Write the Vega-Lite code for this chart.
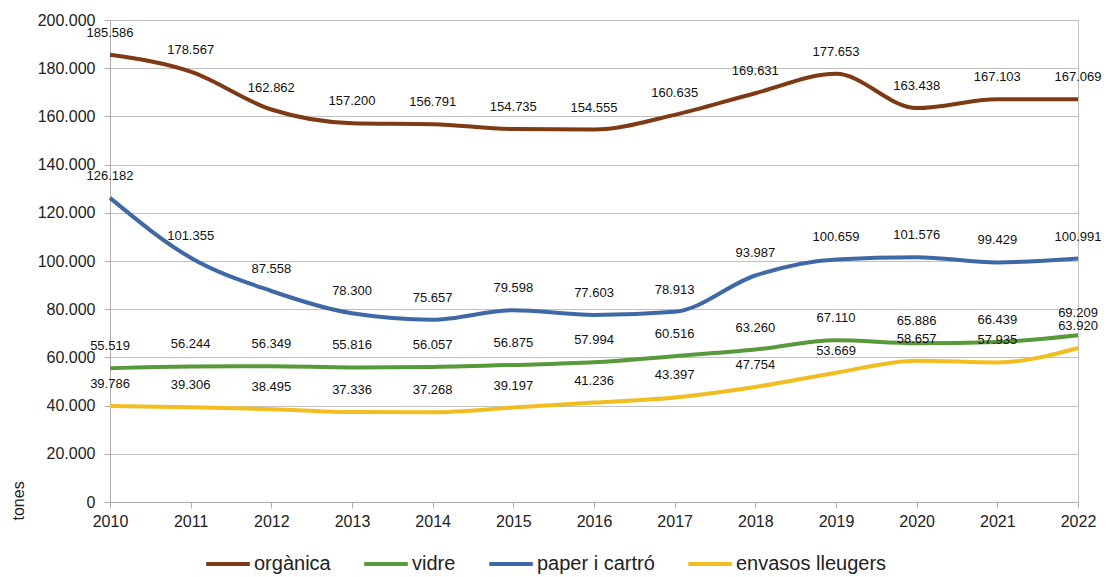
{
  "$schema": "https://vega.github.io/schema/vega-lite/v6.json",
  "width": 968,
  "height": 482,
  "autosize": {"type": "none"},
  "padding": {"left": 110, "top": 20, "right": 32, "bottom": 75},
  "background": "white",
  "config": {
    "locale": {"number": {"decimal": ",", "thousands": ".", "grouping": [3], "currency": ["", " €"]}},
    "font": "Liberation Sans",
    "view": {"stroke": "#c0c0c0", "strokeWidth": 1}
  },
  "data": {
    "values": [
      {"year": 2010, "tipus": "orgànica", "tones": 185586},
      {"year": 2011, "tipus": "orgànica", "tones": 178567},
      {"year": 2012, "tipus": "orgànica", "tones": 162862},
      {"year": 2013, "tipus": "orgànica", "tones": 157200},
      {"year": 2014, "tipus": "orgànica", "tones": 156791},
      {"year": 2015, "tipus": "orgànica", "tones": 154735},
      {"year": 2016, "tipus": "orgànica", "tones": 154555},
      {"year": 2017, "tipus": "orgànica", "tones": 160635},
      {"year": 2018, "tipus": "orgànica", "tones": 169631},
      {"year": 2019, "tipus": "orgànica", "tones": 177653},
      {"year": 2020, "tipus": "orgànica", "tones": 163438},
      {"year": 2021, "tipus": "orgànica", "tones": 167103},
      {"year": 2022, "tipus": "orgànica", "tones": 167069},
      {"year": 2010, "tipus": "vidre", "tones": 55519},
      {"year": 2011, "tipus": "vidre", "tones": 56244},
      {"year": 2012, "tipus": "vidre", "tones": 56349},
      {"year": 2013, "tipus": "vidre", "tones": 55816},
      {"year": 2014, "tipus": "vidre", "tones": 56057},
      {"year": 2015, "tipus": "vidre", "tones": 56875},
      {"year": 2016, "tipus": "vidre", "tones": 57994},
      {"year": 2017, "tipus": "vidre", "tones": 60516},
      {"year": 2018, "tipus": "vidre", "tones": 63260},
      {"year": 2019, "tipus": "vidre", "tones": 67110},
      {"year": 2020, "tipus": "vidre", "tones": 65886},
      {"year": 2021, "tipus": "vidre", "tones": 66439},
      {"year": 2022, "tipus": "vidre", "tones": 69209},
      {"year": 2010, "tipus": "paper i cartró", "tones": 126182},
      {"year": 2011, "tipus": "paper i cartró", "tones": 101355},
      {"year": 2012, "tipus": "paper i cartró", "tones": 87558},
      {"year": 2013, "tipus": "paper i cartró", "tones": 78300},
      {"year": 2014, "tipus": "paper i cartró", "tones": 75657},
      {"year": 2015, "tipus": "paper i cartró", "tones": 79598},
      {"year": 2016, "tipus": "paper i cartró", "tones": 77603},
      {"year": 2017, "tipus": "paper i cartró", "tones": 78913},
      {"year": 2018, "tipus": "paper i cartró", "tones": 93987},
      {"year": 2019, "tipus": "paper i cartró", "tones": 100659},
      {"year": 2020, "tipus": "paper i cartró", "tones": 101576},
      {"year": 2021, "tipus": "paper i cartró", "tones": 99429},
      {"year": 2022, "tipus": "paper i cartró", "tones": 100991},
      {"year": 2010, "tipus": "envasos lleugers", "tones": 39786},
      {"year": 2011, "tipus": "envasos lleugers", "tones": 39306},
      {"year": 2012, "tipus": "envasos lleugers", "tones": 38495},
      {"year": 2013, "tipus": "envasos lleugers", "tones": 37336},
      {"year": 2014, "tipus": "envasos lleugers", "tones": 37268},
      {"year": 2015, "tipus": "envasos lleugers", "tones": 39197},
      {"year": 2016, "tipus": "envasos lleugers", "tones": 41236},
      {"year": 2017, "tipus": "envasos lleugers", "tones": 43397},
      {"year": 2018, "tipus": "envasos lleugers", "tones": 47754},
      {"year": 2019, "tipus": "envasos lleugers", "tones": 53669},
      {"year": 2020, "tipus": "envasos lleugers", "tones": 58657},
      {"year": 2021, "tipus": "envasos lleugers", "tones": 57935},
      {"year": 2022, "tipus": "envasos lleugers", "tones": 63920}
    ]
  },
  "encoding": {
    "x": {
      "field": "year",
      "type": "ordinal",
      "scale": {"type": "point", "padding": 0},
      "axis": {
        "title": null,
        "labelAngle": 0,
        "labelFontSize": 16,
        "labelColor": "#222",
        "labelPadding": 5,
        "tickColor": "#b0b0b0",
        "tickSize": 6,
        "domainColor": "#b0b0b0",
        "grid": false
      }
    },
    "y": {
      "field": "tones",
      "type": "quantitative",
      "scale": {"domain": [0, 200000], "nice": false},
      "axis": {
        "title": "tones",
        "titleFontSize": 16,
        "titleFontWeight": "normal",
        "titleColor": "#222",
        "titleAngle": 270,
        "titleAlign": "left",
        "titleBaseline": "middle",
        "titleX": -92,
        "titleY": 500,
        "format": ",d",
        "values": [0, 20000, 40000, 60000, 80000, 100000, 120000, 140000, 160000, 180000, 200000],
        "labelFontSize": 16,
        "labelColor": "#222",
        "labelPadding": 9,
        "tickSize": 6,
        "tickColor": "#b0b0b0",
        "domainColor": "#b0b0b0",
        "gridColor": "#c0c0c0"
      }
    }
  },
  "layer": [
    {
      "mark": {"type": "line", "strokeWidth": 4, "interpolate": "monotone"},
      "encoding": {
        "color": {
          "field": "tipus",
          "type": "nominal",
          "scale": {
            "domain": ["orgànica", "vidre", "paper i cartró", "envasos lleugers"],
            "range": ["#7e3a12", "#58993a", "#3f69a6", "#f2bd1e"]
          },
          "legend": {
            "title": null,
            "orient": "none",
            "direction": "horizontal",
            "legendX": 94,
            "legendY": 520,
            "symbolType": "stroke",
            "symbolSize": 1900,
            "symbolStrokeWidth": 4,
            "labelFontSize": 20,
            "labelColor": "#222",
            "labelOffset": 2,
            "columnPadding": 25
          }
        }
      }
    },
    {
      "mark": {"type": "text", "dy": -22, "fontSize": 13, "color": "#111"},
      "encoding": {
        "text": {"field": "tones", "type": "quantitative", "format": ",d"}
      }
    }
  ]
}
